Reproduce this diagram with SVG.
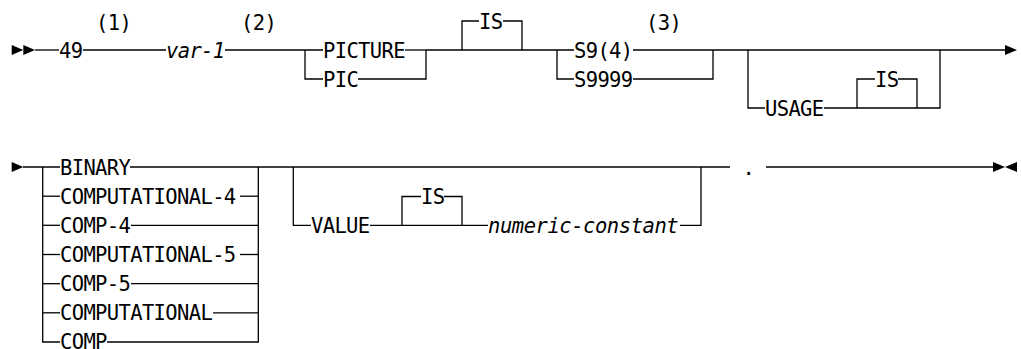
<svg xmlns="http://www.w3.org/2000/svg" width="1021" height="349" viewBox="0 0 1021 349">
<style>
text{font-family:"DejaVu Sans Mono","Liberation Mono",monospace;font-size:20.5px;letter-spacing:-0.64px;fill:#000}
.it{font-style:italic}
.c line,.c path{stroke:#000;stroke-width:1.3;fill:none}
.ah{fill:#000;stroke:none}
</style>
<rect width="1021" height="349" fill="#fff"/>
<g id="connectors" class="c">
<polygon class="ah" points="11.7,45 23.3,50 11.7,55"/>
<polygon class="ah" points="23.3,45 35,50 23.3,55"/>
<line x1="35" y1="50" x2="59" y2="50"/>
<line x1="83" y1="50" x2="166" y2="50"/>
<line x1="225" y1="50" x2="323" y2="50"/>
<path d="M305,50 V79 H323"/>
<line x1="405" y1="50" x2="426" y2="50"/>
<path d="M358,79 H426 V50"/>
<line x1="426" y1="50" x2="574" y2="50"/>
<path d="M462,50 V21 H479"/>
<path d="M503,21 H522 V50"/>
<path d="M557,50 V79 H574"/>
<line x1="633" y1="50" x2="1005" y2="50"/>
<path d="M633,79 H713 V50"/>
<path d="M748,50 V108 H765"/>
<path d="M824,108 H940 V50"/>
<path d="M857,108 V79 H875"/>
<path d="M898,79 H917 V108"/>
<polygon class="ah" points="1005,45 1017,50 1005,55"/>
<polygon class="ah" points="11.7,162 23.3,167 11.7,172"/>
<line x1="23" y1="167" x2="60" y2="167"/>
<path d="M42.7,167 V342 H60"/>
<line x1="42.7" y1="196.2" x2="60" y2="196.2"/>
<line x1="42.7" y1="225.3" x2="60" y2="225.3"/>
<line x1="42.7" y1="254.5" x2="60" y2="254.5"/>
<line x1="42.7" y1="283.7" x2="60" y2="283.7"/>
<line x1="42.7" y1="312.8" x2="60" y2="312.8"/>
<line x1="130" y1="167" x2="730" y2="167"/>
<line x1="240" y1="196.2" x2="258.3" y2="196.2"/>
<line x1="131" y1="225.3" x2="258.3" y2="225.3"/>
<line x1="240" y1="254.5" x2="258.3" y2="254.5"/>
<line x1="131" y1="283.7" x2="258.3" y2="283.7"/>
<line x1="213" y1="312.8" x2="258.3" y2="312.8"/>
<path d="M107,342 H258.3 V167"/>
<path d="M293.3,167 V225.3 H311"/>
<path d="M370,225.3 H488"/>
<path d="M402,225.3 V196.5 H421"/>
<path d="M444,196.5 H462 V225.3"/>
<path d="M680,225.3 H701 V167"/>
<line x1="766" y1="167" x2="993" y2="167"/>
<polygon class="ah" points="993,162 1005,167 993,172"/>
<polygon class="ah" points="1017,162 1005,167 1017,172"/>
</g>
<g id="n-49"><text x="59" y="57.5">49</text></g>
<g id="note1"><text x="96" y="29.5">(1)</text></g>
<g id="n-var1"><text class="it" x="166" y="57.5">var-1</text></g>
<g id="note2"><text x="241" y="29.5">(2)</text></g>
<g id="n-picture"><text x="323" y="57.5">PICTURE</text></g>
<g id="n-pic"><text x="323" y="86.5">PIC</text></g>
<g id="n-is1"><text x="479" y="28.5">IS</text></g>
<g id="note3"><text x="646" y="29.5">(3)</text></g>
<g id="n-s94"><text x="574" y="57.5">S9(4)</text></g>
<g id="n-s9999"><text x="574" y="86.5">S9999</text></g>
<g id="n-usage"><text x="765" y="115.5">USAGE</text></g>
<g id="n-is2"><text x="875" y="86.5">IS</text></g>
<g id="n-binary"><text x="60" y="174.5">BINARY</text></g>
<g id="n-comp-al4"><text x="60" y="203.7">COMPUTATIONAL-4</text></g>
<g id="n-comp4"><text x="60" y="232.8">COMP-4</text></g>
<g id="n-comp-al5"><text x="60" y="262">COMPUTATIONAL-5</text></g>
<g id="n-comp5"><text x="60" y="291.2">COMP-5</text></g>
<g id="n-comp-al"><text x="60" y="320.3">COMPUTATIONAL</text></g>
<g id="n-comp"><text x="60" y="349">COMP</text></g>
<g id="n-value"><text x="311" y="232.8">VALUE</text></g>
<g id="n-is3"><text x="421" y="204">IS</text></g>
<g id="n-numconst"><text class="it" x="488" y="232.8" textLength="190">numeric-constant</text></g>
<g id="n-period"><text x="742.5" y="174.5">.</text></g>
</svg>
